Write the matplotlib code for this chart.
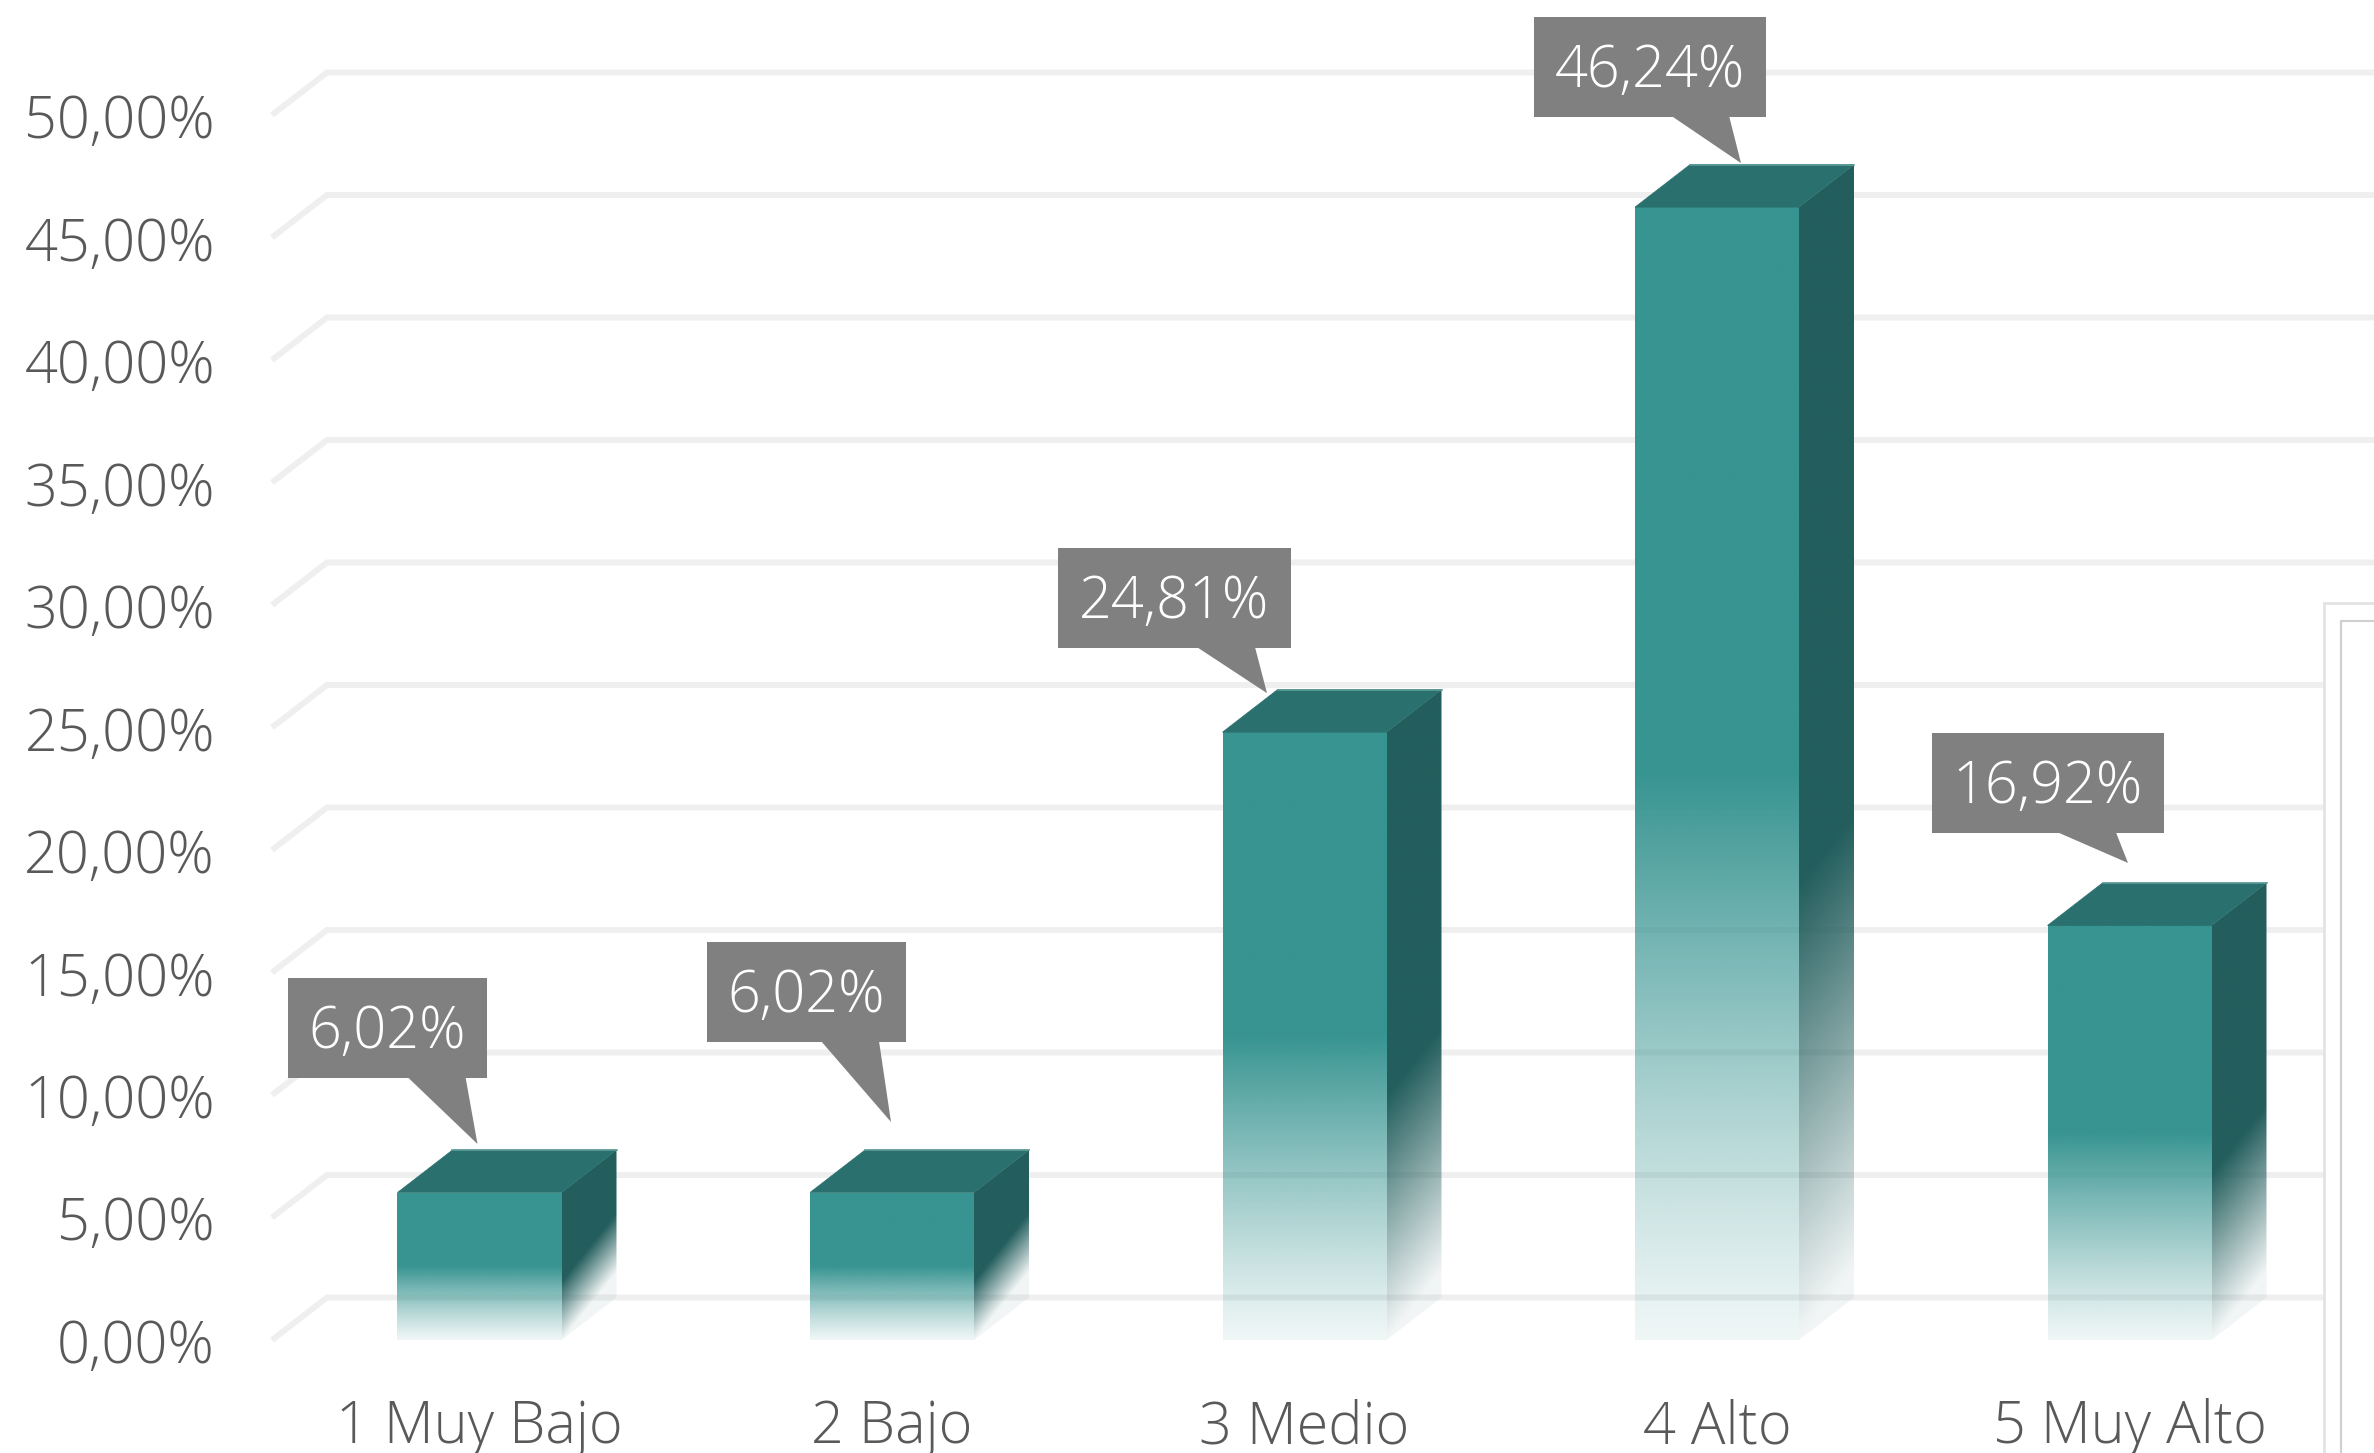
import numpy as np
import matplotlib
matplotlib.use("Agg")
import matplotlib.pyplot as plt
from matplotlib.patches import Polygon, Rectangle
from matplotlib.colors import to_rgb

# ---------------- data ----------------
categories = ["1 Muy Bajo", "2 Bajo", "3 Medio", "4 Alto", "5 Muy Alto"]
values = [6.02, 6.02, 24.81, 46.24, 16.92]
y_ticks = [0, 5, 10, 15, 20, 25, 30, 35, 40, 45, 50]


def pct(v):
    return f"{v:.2f}".replace(".", ",") + "%"


# ---------------- layout (pixels of the 2374x1453 canvas) ----------------
W, H = 2374, 1453
X0_PX, SX = 479.5, 412.5      # x pixel of first category, px per category
Y0_PX, SY = 1340.0, 24.5      # y pixel of 0 %, px per percent
BAR_W_PX = 164
DEPTH_X_PX, DEPTH_Y_PX = 55, 42.5
GRID_FRONT_X_PX = 272
TICK_RIGHT_PX = 215
CAT_BASELINE_PX = 1443
PANEL_X_PX, PANEL_Y_PX = 2324, 603
# label boxes: centre offset and pointer tip offset from the bar's front-top centre
label_box_off = [(-92, -164.5), (-85.5, -200.5), (-130, -134), (-67, -140.5), (-81.5, -142)]
label_tip_off = [(-2, -48.5), (-1, -70.5), (-37.5, -39), (24, -44), (-1.5, -62.5)]
BOX_H_PX, BOX_PADX_PX = 100, 21

FRONT = to_rgb("#379491")
SIDE = to_rgb("#235e5d")
TOP = to_rgb("#29706e")
GRID = "#efefef"
TXT = "#595959"
LBL_BG = "#808080"
FW = "light"
FS = 41.5

plt.rcParams["font.family"] = ["Open Sans", "DejaVu Sans"]

fig = plt.figure(figsize=(W / 100, H / 100), dpi=100)
ax = fig.add_axes([0, 0, 1, 1])
ax.axis("off")


def px2x(p):
    return (p - X0_PX) / SX


def py2y(p):
    return (Y0_PX - p) / SY


XMIN, XMAX = px2x(0), px2x(W)
YMIN, YMAX = py2y(H), py2y(0)

BW = BAR_W_PX / SX
DX = DEPTH_X_PX / SX
DY = DEPTH_Y_PX / SY

# ---------------- gridlines & tick labels ----------------
for v in y_ticks:
    fx = px2x(GRID_FRONT_X_PX)
    ax.plot([fx, fx + DX, XMAX + 1], [v, v + DY, v + DY], color=GRID, lw=4.3,
            solid_joinstyle="miter", solid_capstyle="butt", zorder=1)
    ax.text(px2x(TICK_RIGHT_PX), v - 23 / SY, pct(v), ha="right", va="baseline",
            fontsize=FS, color=TXT, fontweight=FW, zorder=5)

# partially visible neighbouring panel on the right
ax.add_patch(Rectangle((px2x(PANEL_X_PX), YMIN - 5), 5, py2y(PANEL_Y_PX) - YMIN + 5,
                       facecolor="white", edgecolor="#e3e3e3", lw=2, zorder=2))
ax.plot([px2x(2341), px2x(2341), XMAX + 1], [YMIN - 5, py2y(621), py2y(621)],
        color="#cfcfcf", lw=1.5, zorder=2)


# ---------------- gradient bars ----------------
def draw_face(verts, rgb, alpha_fn, z):
    verts = np.asarray(verts)
    xmin, ymin = verts.min(0)
    xmax, ymax = verts.max(0)
    nx, ny = 120, 500
    xs = np.linspace(xmin, xmax, nx)
    ys = np.linspace(ymin, ymax, ny)
    XX, YY = np.meshgrid(xs, ys)
    img = np.zeros((ny, nx, 4))
    img[..., :3] = rgb
    img[..., 3] = np.clip(alpha_fn(XX, YY), 0, 1)
    im = ax.imshow(img, extent=[xmin, xmax, ymin, ymax], origin="lower",
                   aspect="auto", interpolation="bilinear", zorder=z)
    poly = Polygon(verts, closed=True, transform=ax.transData)
    im.set_clip_path(poly)


def front_alpha(t):
    t = np.clip(t, 0, 1)
    return np.where(t >= 0.5, 1.0, 0.08 + 0.92 * (t / 0.5) ** 1.15)


def side_alpha(t):
    t = np.clip(t, 0, 1)
    return np.where(t >= 0.4, 1.0, 0.06 + 0.94 * (t / 0.4) ** 1.0)


for i, v in enumerate(values):
    xl, xr = i - BW / 2, i + BW / 2
    # front face
    draw_face([(xl, 0), (xr, 0), (xr, v), (xl, v)], FRONT,
              lambda X, Y, v=v: front_alpha(Y / v), 3)
    # side face
    draw_face([(xr, 0), (xr + DX, DY), (xr + DX, v + DY), (xr, v)], SIDE,
              lambda X, Y, v=v, xr=xr: side_alpha((Y - (X - xr) / DX * DY * 1.6) / v), 3)
    # top face
    ax.add_patch(Polygon([(xl, v), (xr, v), (xr + DX, v + DY), (xl + DX, v + DY)],
                         closed=True, facecolor=TOP, edgecolor=TOP, lw=0.5, zorder=4))
    ax.plot([xl + DX, xr + DX], [v + DY, v + DY], color="#5f9c99", lw=1.2, zorder=4)

    # category label
    ax.text(i, py2y(CAT_BASELINE_PX), categories[i], ha="center", va="baseline",
            fontsize=FS, color=TXT, fontweight=FW, zorder=5)

# ---------------- data labels (callouts) ----------------
fig.canvas.draw()
renderer = fig.canvas.get_renderer()
for i, v in enumerate(values):
    top_px_x = X0_PX + SX * i
    top_px_y = Y0_PX - SY * v
    cx = top_px_x + label_box_off[i][0]
    cy = top_px_y + label_box_off[i][1]
    tx = top_px_x + label_tip_off[i][0]
    ty = top_px_y + label_tip_off[i][1]
    t = ax.text(px2x(cx), py2y(cy + 20), pct(v), ha="center", va="baseline",
                fontsize=FS, color="white", fontweight=FW, zorder=8)
    tw = t.get_window_extent(renderer).width
    bw = tw + 2 * BOX_PADX_PX
    bx0, by0 = cx - bw / 2, cy - BOX_H_PX / 2
    ax.add_patch(Rectangle((px2x(bx0), py2y(by0 + BOX_H_PX)), bw / SX, BOX_H_PX / SY,
                           facecolor=LBL_BG, edgecolor="none", zorder=7))
    by1 = by0 + BOX_H_PX - 1
    ax.add_patch(Polygon([(px2x(tx - 70), py2y(by1)), (px2x(tx - 12), py2y(by1)),
                          (px2x(tx), py2y(ty))], closed=True,
                         facecolor=LBL_BG, edgecolor="none", zorder=7))

ax.set_xlim(XMIN, XMAX)
ax.set_ylim(YMIN, YMAX)
fig.savefig("out.png", dpi=100, facecolor="white")
